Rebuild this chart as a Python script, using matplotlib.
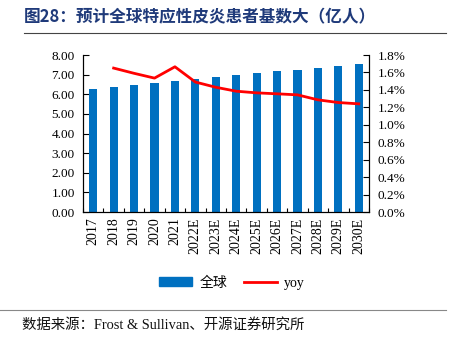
import matplotlib.pyplot as plt
from matplotlib.ticker import FuncFormatter, MultipleLocator
from matplotlib.lines import Line2D

plt.rcParams['font.family'] = ['Liberation Serif', 'Noto Sans CJK SC']

years = ['2017', '2018', '2019', '2020', '2021', '2022E', '2023E', '2024E',
         '2025E', '2026E', '2027E', '2028E', '2029E', '2030E']
patients = [6.26, 6.36, 6.46, 6.56, 6.67, 6.77, 6.87, 6.97,
            7.07, 7.16, 7.26, 7.35, 7.44, 7.54]
yoy = [None, 1.65, 1.59, 1.535, 1.665, 1.49, 1.43, 1.385,
       1.366, 1.355, 1.343, 1.286, 1.255, 1.24]

fig = plt.figure(figsize=(4.52, 3.58), dpi=100)
ax = fig.add_axes([83 / 452, 1 - 212 / 358, 286 / 452, 157 / 358])

x = list(range(len(years)))
ax.bar(x, patients, width=0.4, color='#0070C0', label='全球', zorder=2)
ax.set_xlim(-0.5, len(years) - 0.5)
ax.set_ylim(0, 8)
ax.yaxis.set_major_locator(MultipleLocator(1))
ax.yaxis.set_major_formatter(FuncFormatter(lambda v, p: f'{v:.2f}'))
ax.set_xticks([i - 0.5 for i in range(len(years) + 1)])
ax.set_xticklabels([])
ax.set_xticks(x, minor=True)
ax.set_xticklabels(years, minor=True, rotation=90)
ax.tick_params(axis='x', which='major', direction='in', length=3, width=0.8)
ax.tick_params(axis='x', which='minor', length=0, labelsize=10, pad=4)
ax.tick_params(axis='y', direction='in', length=4, labelsize=9.5, pad=6)
ax.spines['top'].set_visible(False)

ax2 = ax.twinx()
xs = [i for i, v in zip(x, yoy) if v is not None]
ys = [v for v in yoy if v is not None]
ax2.plot(xs, ys, color='#FF0000', lw=2, label='yoy', zorder=3)
ax2.set_ylim(0, 1.8)
ax2.yaxis.set_major_locator(MultipleLocator(0.2))
ax2.yaxis.set_major_formatter(FuncFormatter(lambda v, p: f'{v:.1f}%'))
ax2.tick_params(axis='y', direction='in', length=4, labelsize=9.5, pad=6)
ax2.spines['top'].set_visible(False)

handles = [plt.Rectangle((0, 0), 1, 1, color='#0070C0'),
           Line2D([0], [0], color='#FF0000', lw=2)]
fig.legend(handles, ['全球', 'yoy'], loc='center', bbox_to_anchor=(232 / 452, 1 - 283 / 358),
           ncol=2, frameon=False, fontsize=10, handlelength=2.4, handleheight=0.6,
           columnspacing=1.2, handletextpad=0.5)

fig.text(24 / 452, 1 - 17 / 358, '图28：预计全球特应性皮炎患者基数大（亿人）',
         fontsize=12, fontweight='bold', color='#1F3A7A', va='center',
         family=['Noto Sans CJK SC', 'Liberation Serif'])
fig.add_artist(Line2D([24 / 452, 446 / 452], [1 - 33 / 358, 1 - 33 / 358],
                      color='#444444', lw=0.8))
fig.add_artist(Line2D([0, 446 / 452], [1 - 310 / 358, 1 - 310 / 358],
                      color='#888888', lw=0.8))
fig.text(22 / 452, 1 - 325 / 358, '数据来源：Frost & Sullivan、开源证券研究所',
         fontsize=10.4, va='center', color='#111111')

fig.savefig('out.png', dpi=100)
